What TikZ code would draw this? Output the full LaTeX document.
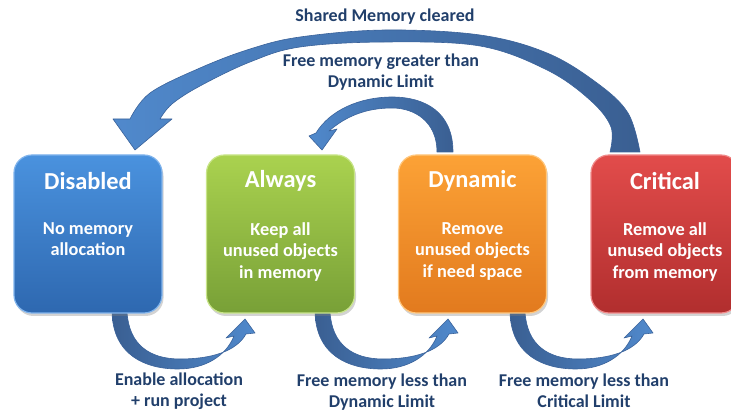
\documentclass[tikz,border=0pt]{standalone}
\usepackage{fontspec}
\setmainfont{Carlito}
\usetikzlibrary{shadows}
\definecolor{lblc}{HTML}{213F6B}
\definecolor{alight}{HTML}{5089CC}
\definecolor{adark}{HTML}{3A5F92}
\definecolor{aedge}{HTML}{3A629A}
\definecolor{bluetop}{HTML}{4A92DE}
\definecolor{bluebot}{HTML}{2E68B0}
\definecolor{blueedge}{HTML}{7FB3EC}
\definecolor{greentop}{HTML}{AAD24F}
\definecolor{greenbot}{HTML}{78A037}
\definecolor{greenedge}{HTML}{C9E58A}
\definecolor{orangetop}{HTML}{FCA236}
\definecolor{orangebot}{HTML}{E27A1E}
\definecolor{orangeedge}{HTML}{FFC77E}
\definecolor{redtop}{HTML}{E24C4B}
\definecolor{redbot}{HTML}{B12E2E}
\definecolor{rededge}{HTML}{F08A8A}
\begin{document}
\begin{tikzpicture}[x=1pt,y=-1pt,
  statebox/.style={rounded corners=18pt, minimum width=148pt, minimum height=158pt,
    inner sep=0pt, line width=1.2pt,
    drop shadow={opacity=0.35, shadow xshift=1.5pt, shadow yshift=-3pt}},
  ttl/.style={text=white, font=\fontsize{24.4}{27}\selectfont\bfseries},
  body/.style={text=white, font=\fontsize{18.3}{21.5}\selectfont\bfseries, align=center, anchor=north, inner sep=0pt},
  lbl/.style={text=lblc, font=\fontsize{18}{21.5}\selectfont\bfseries, align=center, inner sep=0pt},
  blockarrow/.style={draw=aedge, line width=0.6pt, line join=round},
  headlight/.style={blockarrow, left color=alight, right color=adark},
  taillight/.style={blockarrow, left color=adark, right color=alight}]
\useasboundingbox (0,0) rectangle (731,411);
\clip (0,0) rectangle (731,411);

% big arrow: Critical -> Disabled
\path[headlight]
  (130,119) -- plot[smooth, tension=0.6] coordinates {(130,119) (150,93) (200,68) (250,49) (300,37) (385,30) (480,35) (547,53) (597,83) (628,113) (640,152)}
  -- plot[smooth, tension=0.6] coordinates {(610,152) (611,127) (590,100) (547,70) (480,46) (385,42) (300,47) (250,62) (200,86) (172,104) (160,119)}
  -- (172,119) -- (135,150) -- (113,119) -- cycle;

% small arrow: Dynamic -> Always
\path[headlight]
  (316,133) .. controls (330,110) and (360,97) .. (392,97)
  .. controls (425,97) and (453,112) .. (453,152)
  -- (437,152)
  .. controls (437,122) and (415,108) .. (392,108)
  .. controls (365,108) and (345,117) .. (329,131)
  -- (337,129) -- (322,150) -- (309,136) -- cycle;

% bottom arrows
\foreach \dx in {0,203,398}{
  \begin{scope}[xshift=\dx pt]
  \path[taillight]
    (112,312) .. controls (113,355) and (145,369) .. (178,369)
    .. controls (205,369) and (226,356) .. (234,336)
    -- (226,338) -- (245,319) -- (255,333) -- (246,334)
    .. controls (236,352) and (210,359) .. (180,359)
    .. controls (150,359) and (129,345) .. (127,312) -- cycle;
  \end{scope}
}

% boxes
\node[statebox, draw=blueedge, top color=bluetop, bottom color=bluebot] (dis) at (88,234) {};
\node[statebox, draw=greenedge, top color=greentop, bottom color=greenbot] (alw) at (280.5,234) {};
\node[statebox, draw=orangeedge, top color=orangetop, bottom color=orangebot] (dyn) at (472.5,234) {};
\node[statebox, draw=rededge, top color=redtop, bottom color=redbot] (cri) at (665,234) {};

\node[ttl] (disT) at (88,181) {Disabled};
\node[ttl] (alwT) at (280.5,181) {Always};
\node[ttl] (dynT) at (472.5,181) {Dynamic};
\node[ttl] (criT) at (665,181) {Critical};

\node[body] (disB) at (88,222) {No memory\\allocation};
\node[body] (alwB) at (280.5,222) {Keep all\\unused objects\\in memory};
\node[body] (dynB) at (472.5,222) {Remove\\unused objects\\if need space};
\node[body] (criB) at (665,222) {Remove all\\unused objects\\from memory};

% labels
\node[lbl] (l1) at (385,17) {Shared Memory cleared};
\node[lbl] (l2) at (381,72) {Free memory greater than\\Dynamic Limit};
\node[lbl] (l3) at (179,391) {Enable allocation\\+ run project};
\node[lbl] (l4) at (382,392) {Free memory less than\\Dynamic Limit};
\node[lbl] (l5) at (584,391) {Free memory less than\\Critical Limit};
\end{tikzpicture}
\end{document}
